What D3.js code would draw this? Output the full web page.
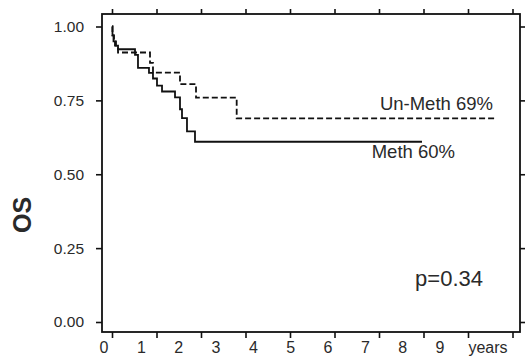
<!DOCTYPE html>
<html>
<head>
<meta charset="utf-8">
<script src="https://cdn.jsdelivr.net/npm/d3@7"></script>
<style>
  body { margin: 0; background: #fff; }
  svg text { font-family: "Liberation Sans", Arial, sans-serif; fill: #2a2a2a; }
</style>
</head>
<body>
<div id="chart"></div>
<script>
// Kaplan-Meier steps (time in years, overall survival)
var methTime = [0, 0.011, 0.034, 0.067, 0.135, 0.517, 0.584, 0.831, 0.921, 1.011, 1.124, 1.416, 1.528, 1.573, 1.685, 1.865, 6.966];
var methSurv = [1.0, 0.97, 0.95, 0.935, 0.923, 0.904, 0.86, 0.843, 0.824, 0.80, 0.78, 0.76, 0.72, 0.69, 0.645, 0.61, 0.61];

var unmethTime = [0, 0.011, 0.045, 0.09, 0.135, 0.854, 0.921, 1.528, 1.888, 2.802, 8.607];
var unmethSurv = [1.0, 0.97, 0.95, 0.93, 0.912, 0.877, 0.844, 0.805, 0.759, 0.689, 0.689];

var yTicks = [0, 0.25, 0.5, 0.75, 1];
var xTicks = [0, 1, 2, 3, 4, 5, 6, 7, 8, 9];
var xLabels = ["0", "1", "2", "3", "4", "5", "6", "7", "8", "9"];

var width = 525, height = 359;
var box = {left: 102, right: 520, top: 14, bottom: 332};

var svg = d3.select("#chart").append("svg")
    .attr("width", width)
    .attr("height", height);

var x = d3.scaleLinear().domain([0, 9]).range([112, 512.5]);
var y = d3.scaleLinear().domain([0, 1]).range([322, 26.5]);
// the printed year labels sit on their own spacing, not under the ticks
var xLab = d3.scaleLinear().domain([0, 9]).range([104, 440]);

// axes (ticks only, frame drawn separately)
var left = svg.append("g")
    .attr("transform", "translate(" + box.left + ",0)")
    .call(d3.axisLeft(y).tickValues(yTicks).tickFormat(d3.format(".2f")).tickSize(6).tickPadding(12));
left.selectAll("text").style("font-size", "15.5px");

var right = svg.append("g")
    .attr("transform", "translate(" + box.right + ",0)")
    .call(d3.axisRight(y).tickValues(yTicks).tickFormat("").tickSize(5));

var top = svg.append("g")
    .attr("transform", "translate(0," + box.top + ")")
    .call(d3.axisTop(x).tickValues(xTicks).tickFormat("").tickSize(5));

var bottom = svg.append("g")
    .attr("transform", "translate(0," + box.bottom + ")")
    .call(d3.axisBottom(x).tickValues(xTicks).tickFormat("").tickSize(6));

svg.selectAll(".domain").remove();
svg.selectAll(".tick line").attr("stroke", "#111").attr("stroke-width", 1.6);
svg.selectAll(".tick text").attr("fill", "#2a2a2a");

// x labels
svg.append("g").selectAll("text")
    .data(xTicks)
    .enter()
    .append("text")
    .attr("x", d => xLab(d))
    .attr("y", 353)
    .attr("text-anchor", "middle")
    .style("font-size", "16px")
    .text((d, i) => xLabels[i]);

svg.append("text")
    .attr("x", 488)
    .attr("y", 353)
    .attr("text-anchor", "middle")
    .style("font-size", "16px")
    .text("years");

// frame
svg.append("rect")
    .attr("x", box.left)
    .attr("y", box.top)
    .attr("width", box.right - box.left)
    .attr("height", box.bottom - box.top)
    .attr("fill", "none")
    .attr("stroke", "#111")
    .attr("stroke-width", 1.8);

// curves
var line = d3.line()
    .x(d => x(d[0]))
    .y(d => y(d[1]))
    .curve(d3.curveStepAfter);

svg.append("path")
    .datum(d3.zip(unmethTime, unmethSurv))
    .attr("d", line)
    .attr("fill", "none")
    .attr("stroke", "#111")
    .attr("stroke-width", 1.8)
    .attr("stroke-dasharray", "6,3");

svg.append("path")
    .datum(d3.zip(methTime, methSurv))
    .attr("d", line)
    .attr("fill", "none")
    .attr("stroke", "#111")
    .attr("stroke-width", 1.8);

// annotations
svg.append("text")
    .attr("x", 493)
    .attr("y", 110)
    .attr("text-anchor", "end")
    .style("font-size", "18.5px")
    .text("Un-Meth 69%");

svg.append("text")
    .attr("x", 455)
    .attr("y", 158)
    .attr("text-anchor", "end")
    .style("font-size", "18.5px")
    .text("Meth 60%");

svg.append("text")
    .attr("x", 483)
    .attr("y", 286)
    .attr("text-anchor", "end")
    .style("font-size", "22px")
    .text("p=0.34");

// y title
svg.append("text")
    .attr("transform", "translate(31,215) rotate(-90)")
    .attr("text-anchor", "middle")
    .style("font-size", "25px")
    .style("font-weight", "bold")
    .text("OS");
</script>
</body>
</html>
